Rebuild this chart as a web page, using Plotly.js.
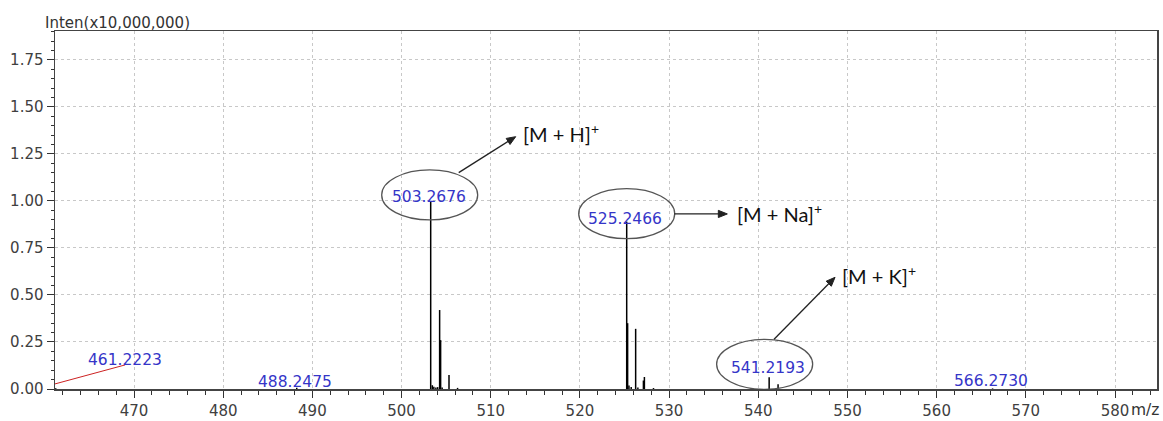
<!DOCTYPE html>
<html>
<head>
<meta charset="utf-8">
<script src="https://cdn.plot.ly/plotly-3.0.1.min.js"></script>
<style>
  html, body { margin: 0; padding: 0; background: #fff; }
  #chart { width: 1163px; height: 421px; }
</style>
</head>
<body>
<div id="chart"></div>
<script>
// ---- data (m/z vs intensity, x10,000,000) ----
const mz = [461.2223, 488.2475, 503.2676, 503.45, 503.62, 503.85, 504.05, 504.2700, 504.3800, 504.55, 505.3200, 506.28,
            525.2466, 525.3500, 525.50, 525.75, 526.2500, 526.50, 527.1200, 527.2300, 528.25,
            541.2193, 542.2200, 566.2730];
const intensity = [0.004, 0.006, 0.995, 0.02, 0.012, 0.008, 0.01, 0.42, 0.26, 0.008, 0.075, 0.006,
                   0.89, 0.35, 0.018, 0.01, 0.32, 0.008, 0.045, 0.064, 0.005,
                   0.062, 0.025, 0.003];

const peakLabels = ["461.2223", "488.2475", "503.2676", "525.2466", "541.2193", "566.2730"];
const ionLabels = ["[M + H]<sup>+</sup>", "[M + Na]<sup>+</sup>", "[M + K]<sup>+</sup>"];
const ionPeaks = ["503.2676", "525.2466", "541.2193"];

const xTickVals = [470, 480, 490, 500, 510, 520, 530, 540, 550, 560, 570, 580];
const yTickVals = [0.00, 0.25, 0.50, 0.75, 1.00, 1.25, 1.50, 1.75];
const yAxisTitle = "Inten(x10,000,000)";
const xAxisTitle = "m/z";

// ---- build stick spectrum ----
const sx = [], sy = [];
mz.forEach((m, i) => { sx.push(m, m, null); sy.push(0, intensity[i], null); });

function peakOf(label) {
  const v = parseFloat(label);
  let best = 0, bd = 1e9;
  mz.forEach((m, i) => { const d = Math.abs(m - v); if (d < bd) { bd = d; best = i; } });
  return { x: mz[best], y: intensity[best] };
}

const blue = "#3535c8";
const labelFont = { family: "DejaVu Sans, Arial, sans-serif", size: 15.5, color: blue };
const annotations = [];
const shapes = [];

// peak labels (461.2223 drawn with a red leader line)
const labelShift = { "488.2475": [-2, 6], "503.2676": [-2, 5], "525.2466": [-2, 3],
                     "541.2193": [-1, 9], "566.2730": [-2, 7] };
peakLabels.forEach(lbl => {
  const p = peakOf(lbl);
  if (lbl === "461.2223") {
    annotations.push({ x: 469.0, y: 0.128, xref: "x", yref: "y", text: lbl, showarrow: false,
      xanchor: "center", yanchor: "middle", yshift: 5, font: labelFont });
    shapes.push({ type: "line", xref: "x", yref: "y", x0: 461.14, y0: 0.027, x1: 469.0, y1: 0.128,
      line: { color: "#cc2222", width: 1 } });
  } else {
    const s = labelShift[lbl];
    annotations.push({ x: p.x, y: p.y, xref: "x", yref: "y", text: lbl, showarrow: false,
      xanchor: "center", yanchor: "middle", xshift: s[0], yshift: s[1], font: labelFont });
  }
});

// ellipses around the ion peaks (pixel sized, anchored at peak)
const ellOff = { "503.2676": [-1, 7], "525.2466": [0, 8], "541.2193": [-4.5, 13] };
ionPeaks.forEach(lbl => {
  const p = peakOf(lbl);
  const o = ellOff[lbl];
  shapes.push({ type: "circle", xref: "x", yref: "y", xsizemode: "pixel", ysizemode: "pixel",
    xanchor: p.x, yanchor: p.y, x0: o[0] - 48, x1: o[0] + 48, y0: o[1] - 25, y1: o[1] + 25,
    line: { color: "#555555", width: 1.3 }, fillcolor: "rgba(0,0,0,0)" });
});

// arrows (line + triangular head, pixel sized, anchored at the head) + ion labels
const arrowSpec = [
  { head: [512.80, 1.342], dx: 57, dy: 36, text: [513.75, 1.362] },
  { head: [536.53, 0.931], dx: 53, dy: 0, text: [537.78, 0.938] },
  { head: [548.61, 0.594], dx: 61, dy: 62, text: [549.47, 0.606] }
];
arrowSpec.forEach((a, i) => {
  const len = Math.hypot(a.dx, a.dy);
  const ux = a.dx / len, uy = a.dy / len;   // direction (screen, y up)
  const nx = -uy, ny = ux;
  const L = 9, W = 3.6;
  shapes.push({ type: "line", xref: "x", yref: "y", xsizemode: "pixel", ysizemode: "pixel",
    xanchor: a.head[0], yanchor: a.head[1], x0: -a.dx, y0: -a.dy, x1: -ux * (L - 2), y1: -uy * (L - 2),
    line: { color: "#222", width: 1.3 } });
  const bx = -ux * L, by = -uy * L;
  const path = `M0,0 L${(bx + nx * W).toFixed(2)},${(by + ny * W).toFixed(2)} L${(bx - nx * W).toFixed(2)},${(by - ny * W).toFixed(2)} Z`;
  shapes.push({ type: "path", xref: "x", yref: "y", xsizemode: "pixel", ysizemode: "pixel",
    xanchor: a.head[0], yanchor: a.head[1], path: path,
    fillcolor: "#222", line: { color: "#222", width: 1 } });
  annotations.push({ x: a.text[0], y: a.text[1], xref: "x", yref: "y", text: ionLabels[i], showarrow: false,
    xanchor: "left", yanchor: "middle", xshift: -3,
    font: { family: "Lato, Open Sans, sans-serif", size: 20, color: "#111" } });
});

// axis titles
annotations.push({ x: 0, y: 1, xref: "paper", yref: "paper", text: yAxisTitle, showarrow: false,
  xanchor: "left", yanchor: "bottom", xshift: -12, yshift: -3,
  font: { family: "DejaVu Sans, Arial, sans-serif", size: 15, color: "#333" } });
annotations.push({ x: 1, y: 0, xref: "paper", yref: "paper", text: xAxisTitle, showarrow: false,
  xanchor: "right", yanchor: "middle", xshift: 4, yshift: -21,
  font: { family: "DejaVu Sans, Arial, sans-serif", size: 15.5, color: "#333" } });

const tickFont = { family: "DejaVu Sans, Arial, sans-serif", size: 15, color: "#404040" };

const layout = {
  width: 1163, height: 421,
  margin: { l: 55, r: 6, t: 31, b: 32 },
  paper_bgcolor: "#fff", plot_bgcolor: "#fff",
  showlegend: false,
  xaxis: {
    range: [461.14, 584.71], tickvals: xTickVals, ticktext: xTickVals.map(String),
    ticks: "outside", ticklen: 7, tickwidth: 1, tickcolor: "#333",
    showline: true, linecolor: "#444", linewidth: 1.5, mirror: true,
    showgrid: true, gridcolor: "#c8c8c8", griddash: "3px,3px", gridwidth: 1,
    zeroline: false, tickfont: tickFont,
    minor: { dtick: 2, tick0: 0, ticks: "outside", ticklen: 4, tickcolor: "#333", showgrid: false }
  },
  yaxis: {
    range: [0, 1.904], tickvals: yTickVals, ticktext: yTickVals.map(v => v.toFixed(2)),
    ticks: "outside", ticklen: 7, tickwidth: 1, tickcolor: "#333",
    showline: true, linecolor: "#444", linewidth: 1.5, mirror: true,
    showgrid: true, gridcolor: "#c8c8c8", griddash: "3px,3px", gridwidth: 1,
    zeroline: false, tickfont: tickFont,
    minor: { dtick: 0.05, tick0: 0, ticks: "outside", ticklen: 3, tickcolor: "#333", showgrid: false }
  },
  annotations: annotations,
  shapes: shapes
};

Plotly.newPlot("chart", [{
  type: "scatter", mode: "lines", x: sx, y: sy,
  line: { color: "#000", width: 1.5 }, hoverinfo: "skip", connectgaps: false
}], layout, { staticPlot: true });
</script>
</body>
</html>
